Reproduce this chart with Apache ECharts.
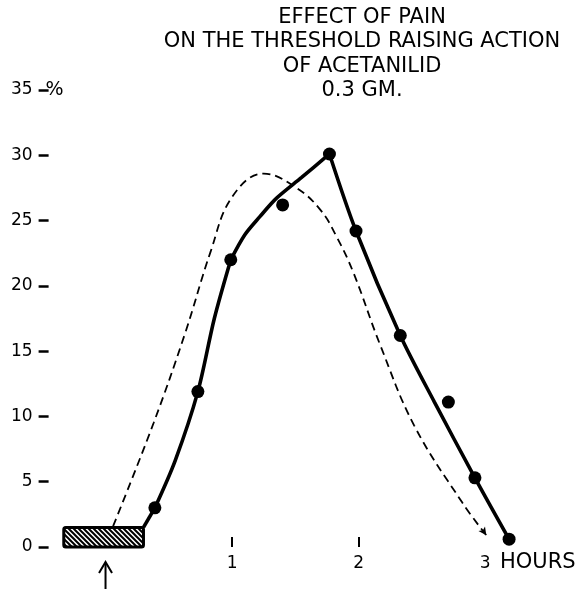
<!DOCTYPE html>
<html>
<head>
<meta charset="utf-8">
<script src="https://cdn.jsdelivr.net/npm/echarts@6/dist/echarts.min.js"></script>
<style>
  html, body { margin: 0; padding: 0; background: #fff; }
  #chart { width: 582px; height: 589px; }
</style>
</head>
<body>
<div id="chart"></div>
<script>
// Observed threshold rise (%) against time after the dose (hours)
const observedHours = [0.39, 0.73, 0.99, 1.40, 1.77, 1.98, 2.33, 2.71, 2.92, 3.19];
const observedRise  = [3.0, 11.9, 22.0, 26.2, 30.1, 24.2, 16.2, 11.1, 5.3, 0.6];

// Drawn solid curve, in pieces so the corners stay sharp
const solidStartHours = [0.30, 0.39];
const solidStartRise  = [1.5, 3.0];
const solidRiseHours  = [0.39, 0.55, 0.73, 0.86, 0.99];
const solidRiseValues = [3.0, 6.6, 11.9, 17.5, 22.0];
const solidUpperHours = [0.99, 1.10, 1.22, 1.35, 1.55, 1.77];
const solidUpperRise  = [22.0, 23.9, 25.3, 26.7, 28.3, 30.1];
const solidFallHours  = [1.77, 1.98, 2.33, 2.60, 2.92, 3.19];
const solidFallRise   = [30.1, 24.2, 16.2, 11.1, 5.3, 0.6];

// Dashed comparison curve (without pain)
const dashedHours = [0.06, 0.38, 0.63, 0.83, 1.00, 1.25, 1.51, 1.70, 1.83, 1.96, 2.17, 2.44, 2.82, 3.01];
const dashedRise  = [1.6, 9.5, 16.4, 22.6, 26.8, 28.6, 27.5, 25.8, 23.7, 21.0, 15.5, 9.3, 3.4, 0.9];

// Pain period (hatched bar) and dosing time (arrow)
const painStart = -0.33;
const painEnd = 0.30;
const painHeight = 1.5;
const doseHour = 0;

// Axis ticks
const xTickValues = [1, 2];
const xLabelValues = [1, 2, 3];
const yTickValues = [0, 5, 10, 15, 20, 25, 30, 35];

const titleLines = ['EFFECT OF PAIN', 'ON THE THRESHOLD RAISING ACTION', 'OF ACETANILID', '0.3 GM.'];

const FONT = 'DejaVu Sans';
const TEXT_SIZE = 21;
const NUM_SIZE = 17;

function pairs(xs, ys) { return xs.map((x, i) => [x, ys[i]]); }

// Hatch pattern for the pain bar
function hatchPattern() {
  const c = document.createElement('canvas');
  const s = 5;
  c.width = s; c.height = s;
  const g = c.getContext('2d');
  g.fillStyle = '#fff';
  g.fillRect(0, 0, s, s);
  g.strokeStyle = '#000';
  g.lineWidth = 2;
  g.beginPath();
  g.moveTo(-1, -1); g.lineTo(s + 1, s + 1);
  g.moveTo(-1, s - 1); g.lineTo(1, s + 1);
  g.moveTo(s - 1, -1); g.lineTo(s + 1, 1);
  g.stroke();
  return { image: c, repeat: 'repeat' };
}

const solidStyle = { color: '#000', width: 3.6 };
function solidPiece(xs, ys, smooth) {
  return {
    type: 'line', data: pairs(xs, ys), smooth: smooth, showSymbol: false,
    lineStyle: solidStyle, silent: true, z: 3
  };
}

// Dashed curve ends in a small arrow tip
const dashedData = pairs(dashedHours, dashedRise).map((p, i, arr) =>
  i === arr.length - 1
    ? { value: p, symbol: 'arrow', symbolSize: [6, 8], symbolRotate: 215, itemStyle: { color: '#000' } }
    : { value: p, symbol: 'none' });

const chart = echarts.init(document.getElementById('chart'), null, { renderer: 'canvas' });

chart.setOption({
  backgroundColor: '#fff',
  animation: false,
  title: {
    text: titleLines.join('\n'),
    left: 362, top: 5, padding: 0,
    textAlign: 'center',
    textStyle: { fontFamily: FONT, fontSize: TEXT_SIZE, fontWeight: 'normal', color: '#000', lineHeight: 24.5 }
  },
  grid: { left: 48.6, right: 59, top: 90, bottom: 42, containLabel: false },
  xAxis: {
    type: 'value', min: -0.45, max: 3.3,
    name: 'HOURS', nameLocation: 'end', nameGap: -23,
    nameTextStyle: { fontFamily: FONT, fontSize: TEXT_SIZE, color: '#000', align: 'left', verticalAlign: 'top', padding: [5, 0, 0, 0] },
    axisLine: { show: false },
    splitLine: { show: false },
    axisTick: { show: true, inside: true, length: 10, customValues: xTickValues, lineStyle: { color: '#000', width: 2 } },
    axisLabel: { customValues: xLabelValues, margin: 8, fontFamily: FONT, fontSize: NUM_SIZE, color: '#000' }
  },
  yAxis: {
    type: 'value', min: 0, max: 35, interval: 5,
    name: '%', nameLocation: 'end', nameGap: 0,
    nameTextStyle: { fontFamily: FONT, fontSize: 19, color: '#000', align: 'center', verticalAlign: 'middle', padding: [0, 0, 0, 12] },
    axisLine: { show: false, onZero: false },
    splitLine: { show: false },
    axisTick: { show: true, length: 10, customValues: yTickValues, lineStyle: { color: '#000', width: 2.5 } },
    axisLabel: { customValues: yTickValues, margin: 16, fontFamily: FONT, fontSize: NUM_SIZE, color: '#000' }
  },
  series: [
    {
      type: 'custom',
      data: [[painStart, painEnd, painHeight]],
      renderItem: function (params, api) {
        const p0 = api.coord([api.value(0), api.value(2)]);
        const p1 = api.coord([api.value(1), 0]);
        return {
          type: 'rect',
          shape: { x: p0[0], y: p0[1], width: p1[0] - p0[0], height: p1[1] - p0[1], r: 2 },
          style: { fill: hatchPattern(), stroke: '#000', lineWidth: 3 }
        };
      },
      z: 4
    },
    {
      type: 'custom',
      data: [[doseHour, -1.15, -3.5]],
      renderItem: function (params, api) {
        const top = api.coord([api.value(0), api.value(1)]);
        const bot = api.coord([api.value(0), api.value(2)]);
        return {
          type: 'group',
          children: [
            { type: 'line', shape: { x1: top[0], y1: top[1] + 1, x2: bot[0], y2: bot[1] }, style: { stroke: '#000', lineWidth: 2 } },
            { type: 'polyline', shape: { points: [[top[0] - 6.5, top[1] + 11], [top[0], top[1]], [top[0] + 6.5, top[1] + 11]] }, style: { stroke: '#000', lineWidth: 2, fill: null } }
          ]
        };
      }
    },
    {
      type: 'line', data: dashedData, smooth: 0.4, showSymbol: true,
      lineStyle: { color: '#000', width: 1.8, type: [8, 5] }, silent: true, z: 2
    },
    solidPiece(solidStartHours, solidStartRise, false),
    solidPiece(solidRiseHours, solidRiseValues, 0.3),
    solidPiece(solidUpperHours, solidUpperRise, 0.3),
    solidPiece(solidFallHours, solidFallRise, 0.3),
    {
      type: 'scatter', data: pairs(observedHours, observedRise),
      symbol: 'circle', symbolSize: 13,
      itemStyle: { color: '#000', opacity: 1 }, silent: true, z: 5
    }
  ]
});
</script>
</body>
</html>
